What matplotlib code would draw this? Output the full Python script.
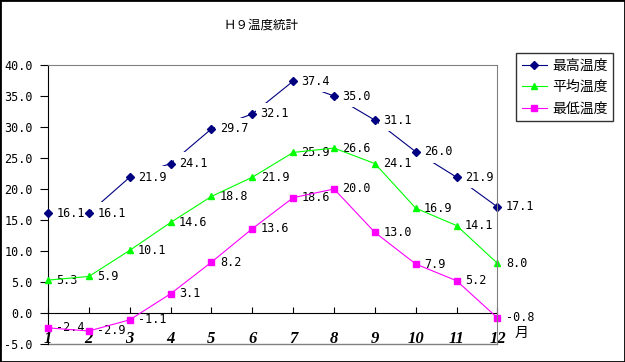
import numpy as np
import matplotlib
matplotlib.use("Agg")
import matplotlib.pyplot as plt
from matplotlib.lines import Line2D
from matplotlib.patches import Rectangle

plt.rcParams["font.family"] = ["Noto Sans CJK JP", "DejaVu Sans"]

months = [1, 2, 3, 4, 5, 6, 7, 8, 9, 10, 11, 12]
t_max = [16.1, 16.1, 21.9, 24.1, 29.7, 32.1, 37.4, 35.0, 31.1, 26.0, 21.9, 17.1]
t_avg = [5.3, 5.9, 10.1, 14.6, 18.8, 21.9, 25.9, 26.6, 24.1, 16.9, 14.1, 8.0]
t_min = [-2.4, -2.9, -1.1, 3.1, 8.2, 13.6, 18.6, 20.0, 13.0, 7.9, 5.2, -0.8]
series_names = ["最高温度", "平均温度", "最低温度"]
title = "Ｈ９温度統計"

W, H = 625, 362
fig = plt.figure(figsize=(W / 100, H / 100), dpi=100)
ax = fig.add_axes([48 / W, 1 - 344 / H, (497.5 - 48) / W, (344 - 65) / H])
ax.set_xlim(1, 12)
ax.set_ylim(-5, 40)

styles = [
    (t_max, "#000080", "D", 3.6, True),
    (t_avg, "#00ff00", "^", 5, False),
    (t_min, "#ff00ff", "s", 4.5, False),
]
handles = []
for vals, color, mk, ms, boxed in styles:
    # navy labels hide their own line, the others sit under the line
    line_z = 2 if boxed else 4
    ax.plot(months, vals, color=color, lw=0.8, zorder=line_z, clip_on=False)
    ax.plot(months, vals, ls="none", marker=mk, ms=ms, color=color,
            zorder=5, clip_on=False)
    for m, v in zip(months, vals):
        kw = {}
        if boxed:
            kw["bbox"] = dict(boxstyle="square,pad=0.4", fc="white", ec="none")
        ax.annotate(f"{v:.1f}", (m, v), xytext=(6, 0), textcoords="offset points",
                    ha="left", va="center", fontsize=8.5, family="DejaVu Sans Mono",
                    zorder=3, annotation_clip=False, **kw)
    handles.append(Line2D([], [], color=color, lw=0.8, marker=mk, ms=ms))

# frame: gray box, black y axis, black x axis at zero
for s in ["top", "right"]:
    ax.spines[s].set_color("#808080")
    ax.spines[s].set_zorder(6)
ax.spines["left"].set_color("black")
ax.spines["bottom"].set_position(("data", 0))
ax.spines["bottom"].set_color("black")
ax.axhline(-5, color="#808080", lw=1, zorder=1, clip_on=False)

yt = np.arange(-5, 41, 5)
ax.set_yticks(yt)
ax.set_yticklabels([f"{v:.1f}" for v in yt], family="DejaVu Sans Mono", fontsize=8.5)
ax.tick_params(axis="y", direction="out", length=6, pad=5)

ax.set_xticks(months)
ax.set_xticklabels([str(m) for m in months], family="Liberation Serif",
                   fontsize=12, fontweight="bold", fontstyle="italic")
ax.tick_params(axis="x", direction="in", length=4, pad=13)

fig.text(522 / W, 1 - 333 / H, "月", fontsize=10, ha="center", va="center")
fig.text(261 / W, 1 - 25 / H, title, fontsize=9, ha="center", va="center")

leg = fig.legend(handles, series_names, loc="upper left",
                 bbox_to_anchor=(516 / W, 1 - 53 / H), borderaxespad=0,
                 fancybox=False, edgecolor="black", fontsize=10,
                 handlelength=1.8, handletextpad=0.4, labelspacing=0.55,
                 borderpad=0.4)
leg.get_frame().set_linewidth(1)

fig.patches.append(Rectangle((0, 0), 1, 1, transform=fig.transFigure,
                             fill=False, ec="black", lw=2))

fig.savefig("out.png", dpi=100)
